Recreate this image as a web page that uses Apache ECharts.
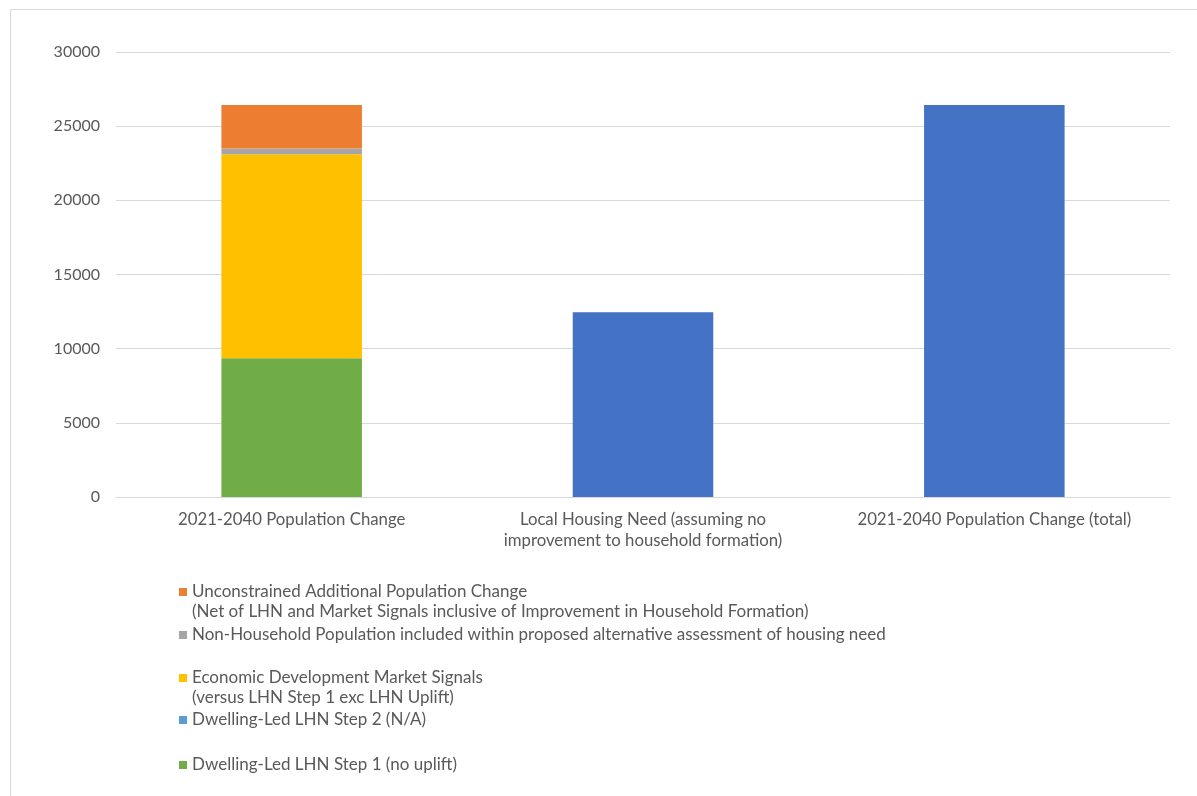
<!DOCTYPE html>
<html>
<head>
<meta charset="utf-8">
<script src="https://cdn.jsdelivr.net/npm/echarts@6/dist/echarts.min.js"></script>
<style>
html,body{margin:0;padding:0;background:#fff;}
#chart{width:1197px;height:796px;}
</style>
</head>
<body>
<div id="chart"></div>
<script>
const categories = ['2021-2040 Population Change', 'Local Housing Need (assuming no\nimprovement to household formation)', '2021-2040 Population Change (total)'];
const yTicks = [0, 5000, 10000, 15000, 20000, 25000, 30000];
const step1 = [9350, null, null];
const step2 = [0, null, null];
const econ = [13750, null, null];
const nonHH = [400, null, null];
const unconstrained = [2930, null, null];
const total = [null, 12450, 26430];

const names = {
  unconstrained: 'Unconstrained Additional Population Change',
  nonHH: 'Non-Household Population included within proposed alternative assessment of housing need',
  econ: 'Economic Development Market Signals',
  step2: 'Dwelling-Led LHN Step 2 (N/A)',
  step1: 'Dwelling-Led LHN Step 1 (no uplift)',
  total: 'Total'
};
const secondLineUnconstrained = '(Net of LHN and Market Signals inclusive of Improvement in Household Formation)';
const secondLineEcon = '(versus LHN Step 1 exc LHN Uplift)';

const FONT = 'Lato';
const TXT = '#595959';
const LH = 21;
const LEG_FS = 17;
const LEG_X = 179;

function legendAt(name, y) {
  return {
    data: [name],
    orient: 'vertical',
    left: LEG_X,
    top: y - LH / 2,
    padding: 0,
    itemWidth: 8,
    itemHeight: 8,
    icon: 'rect',
    selectedMode: false,
    textStyle: {fontFamily: FONT, fontSize: LEG_FS, color: TXT, lineHeight: LH}
  };
}
function subLine(text, y) {
  return {
    type: 'text', silent: true,
    style: {
      text: text, x: LEG_X + 13, y: y, verticalAlign: 'middle',
      font: LEG_FS + 'px ' + FONT, fill: TXT
    }
  };
}

const chart = echarts.init(document.getElementById('chart'), null, {renderer: 'canvas'});
function bar(key, data, color) {
  return {
    name: names[key], type: 'bar', stack: 'a', data: data,
    barWidth: '40%', itemStyle: {color: color}, emphasis: {disabled: true}
  };
}
chart.setOption({
  animation: false,
  backgroundColor: '#fff',
  textStyle: {fontFamily: FONT},
  graphic: [
    {
      type: 'rect', silent: true,
      shape: {x: 10.5, y: 9.5, width: 1200, height: 800},
      style: {fill: 'none', stroke: '#d9d9d9', lineWidth: 1}
    },
    subLine(secondLineUnconstrained, 612),
    subLine(secondLineEcon, 698)
  ],
  grid: {left: 116, right: 27, top: 52, bottom: 299, containLabel: false},
  xAxis: {
    type: 'category', data: categories,
    axisLine: {lineStyle: {color: '#d9d9d9'}},
    axisTick: {show: false},
    axisLabel: {fontFamily: FONT, fontSize: 16.75, color: TXT, lineHeight: LH, margin: 12, interval: 0}
  },
  yAxis: {
    type: 'value', min: yTicks[0], max: yTicks[yTicks.length - 1], interval: yTicks[1] - yTicks[0],
    axisLine: {show: false}, axisTick: {show: false},
    splitLine: {lineStyle: {color: '#d9d9d9'}},
    axisLabel: {fontFamily: FONT, fontSize: 16, color: TXT, margin: 16, formatter: function (v) { return String(v); }}
  },
  legend: [
    legendAt(names.unconstrained, 592),
    legendAt(names.nonHH, 635),
    legendAt(names.econ, 678),
    legendAt(names.step2, 720),
    legendAt(names.step1, 765)
  ],
  series: [
    bar('step1', step1, '#70AD47'),
    bar('step2', step2, '#5B9BD5'),
    bar('econ', econ, '#FFC000'),
    bar('nonHH', nonHH, '#A5A5A5'),
    bar('unconstrained', unconstrained, '#ED7D31'),
    bar('total', total, '#4472C4')
  ]
});
</script>
</body>
</html>
